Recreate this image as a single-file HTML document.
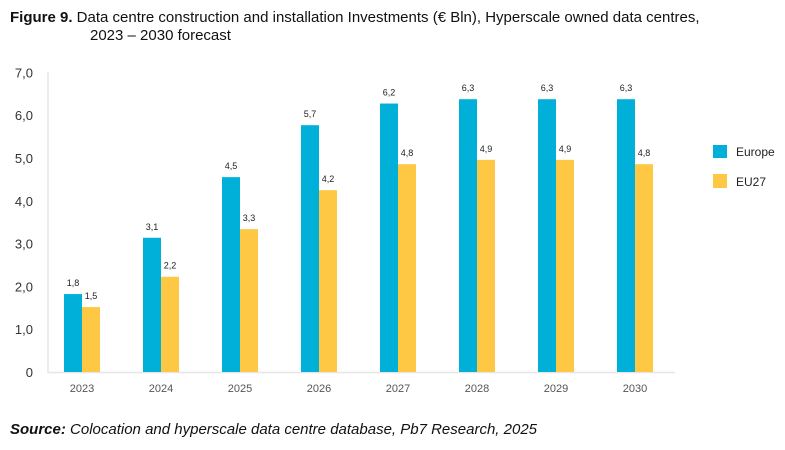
<!DOCTYPE html>
<html><head><meta charset="utf-8"><style>
body{margin:0;width:785px;height:450px;background:#fff;font-family:"Liberation Sans",sans-serif;overflow:hidden}
</style></head><body>
<svg width="785" height="450" style="position:absolute;left:0;top:0">
<text x="10" y="22" font-size="15" fill="#111"><tspan font-weight="bold">Figure 9.</tspan> Data centre construction and installation Investments (€ Bln), Hyperscale owned data centres,</text>
<text x="90" y="40" font-size="15" fill="#111">2023 – 2030 forecast</text>
<line x1="48" y1="72" x2="48" y2="373" stroke="#e6e6e6" stroke-width="1.5"/>
<line x1="48" y1="372.5" x2="675" y2="372.5" stroke="#e6e6e6" stroke-width="1.5"/>
<g id="yt"></g><g id="bars"></g><g id="xt"></g>
<rect x="713" y="145" width="14" height="13" fill="#00b0d8"/>
<text x="736" y="156" font-size="12" fill="#222">Europe</text>
<rect x="713" y="174" width="14" height="14" fill="#ffc844"/>
<text x="736" y="186" font-size="12" fill="#222">EU27</text>
<text x="10" y="434" font-size="15" font-style="italic" fill="#111"><tspan font-weight="bold">Source:</tspan> Colocation and hyperscale data centre database, Pb7 Research, 2025</text>
</svg>
<script>
const categories=["2023","2024","2025","2026","2027","2028","2029","2030"];
const europe=[1.8,3.1,4.5,5.7,6.2,6.3,6.3,6.3];
const eu27=[1.5,2.2,3.3,4.2,4.8,4.9,4.9,4.8];
const yTicks=[0,1,2,3,4,5,6,7];
const NS="http://www.w3.org/2000/svg";
const y=v=>372-v*43.3;
const yTick=v=>372-v*42.8;
const xc=i=>82+i*79;
const fmt=v=>v===0?"0":v.toFixed(1).replace(".",",");
function mk(tag,attrs,parent,text){const e=document.createElementNS(NS,tag);for(const k in attrs)e.setAttribute(k,attrs[k]);if(text!==undefined)e.textContent=text;document.getElementById(parent).appendChild(e);return e;}
yTicks.forEach(t=>{const e=mk("text",{x:33,y:yTick(t)+5,"font-size":13,fill:"#333","text-anchor":"end"},"yt",fmt(t));

});
categories.forEach((c,i)=>{
const t=mk("text",{x:xc(i),y:392,"font-size":11,fill:"#555","text-anchor":"middle"},"xt",c);


const b1=mk("rect",{x:xc(i)-18,y:y(europe[i]),width:18,height:372-y(europe[i]),fill:"#00b0d8"},"bars");


const b2=mk("rect",{x:xc(i),y:y(eu27[i]),width:18,height:372-y(eu27[i]),fill:"#ffc844"},"bars");


const l1=mk("text",{x:xc(i)-9,y:y(europe[i])-8,"font-size":9,fill:"#222","text-anchor":"middle"},"bars",fmt(europe[i]));


const l2=mk("text",{x:xc(i)+9,y:y(eu27[i])-8,"font-size":9,fill:"#222","text-anchor":"middle"},"bars",fmt(eu27[i]));


});
</script>
</body></html>
